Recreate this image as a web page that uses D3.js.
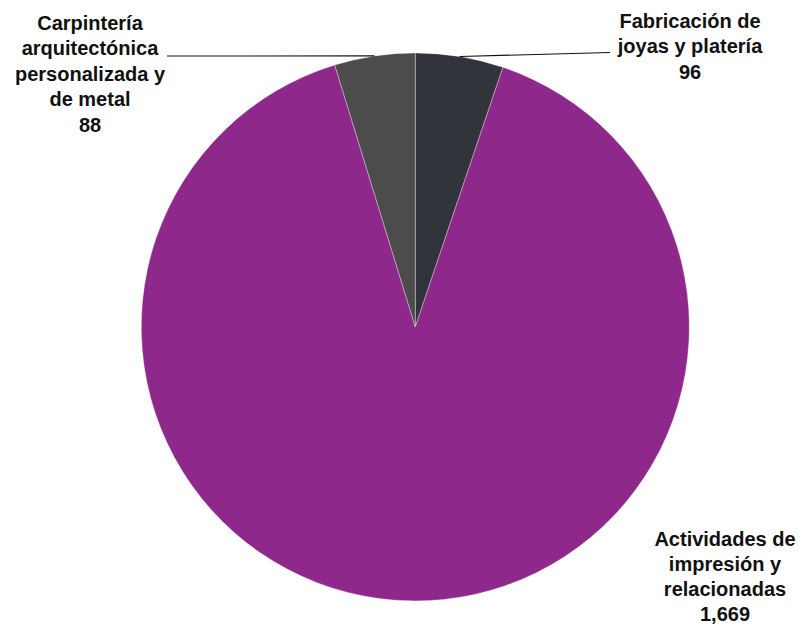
<!DOCTYPE html>
<html>
<head>
<meta charset="utf-8">
<script src="https://cdn.jsdelivr.net/npm/d3@7"></script>
<style>
  html, body { margin: 0; padding: 0; background: #fff; }
  svg { display: block; }
  text { font-family: "Liberation Sans", Arial, Helvetica, sans-serif; font-weight: bold; fill: #111; }
</style>
</head>
<body>
<svg id="chart" width="805" height="626"></svg>
<script>
// Data
const categories = [
  "Fabricación de joyas y platería",
  "Actividades de impresión y relacionadas",
  "Carpintería arquitectónica personalizada y de metal"
];
const values = [96, 1669, 88];
const valueLabels = ["96", "1,669", "88"];
const labelLines = [
  ["Fabricación de", "joyas y platería"],
  ["Actividades de", "impresión y", "relacionadas"],
  ["Carpintería", "arquitectónica", "personalizada y", "de metal"]
];
const colors = ["#32343b", "#8e288b", "#4c4c4c"];

// Layout
const W = 805, H = 626;
const cx = 415.3, cy = 326.9, R = 274;
// label placement: center x, first baseline, line height, leader end (or null)
const labelPos = [
  { x: 690, y: 27.5, lh: 25.6, leader: [610, 52.5] },
  { x: 725, y: 545.5, lh: 25.3, leader: null },
  { x: 90, y: 29.5, lh: 25.6, leader: [167, 56] }
];

const svg = d3.select("#chart");
const g = svg.append("g").attr("transform", `translate(${cx},${cy})`);

const pie = d3.pie().sort(null).value(d => d)(values);
const arc = d3.arc().innerRadius(0).outerRadius(R);

g.selectAll("path.slice")
  .data(pie)
  .join("path")
  .attr("class", "slice")
  .attr("d", arc)
  .attr("fill", (d, i) => colors[i])
  .attr("stroke", "#ffffff")
  .attr("stroke-opacity", 0.45)
  .attr("stroke-width", 0.7);

// leader lines
pie.forEach((d, i) => {
  const p = labelPos[i];
  if (!p.leader) return;
  const a = (d.startAngle + d.endAngle) / 2;
  const sx = cx + R * Math.sin(a);
  const sy = cy - R * Math.cos(a);
  svg.append("line")
    .attr("x1", sx).attr("y1", sy)
    .attr("x2", p.leader[0]).attr("y2", p.leader[1])
    .attr("stroke", "#111")
    .attr("stroke-width", 1.2);
});

// labels
pie.forEach((d, i) => {
  const p = labelPos[i];
  const lines = labelLines[i].concat([valueLabels[i]]);
  const t = svg.append("text")
    .attr("text-anchor", "middle")
    .attr("font-size", 20);
  lines.forEach((ln, k) => {
    t.append("tspan")
      .attr("x", p.x)
      .attr("y", p.y + k * p.lh)
      .text(ln);
  });
});
</script>
</body>
</html>
